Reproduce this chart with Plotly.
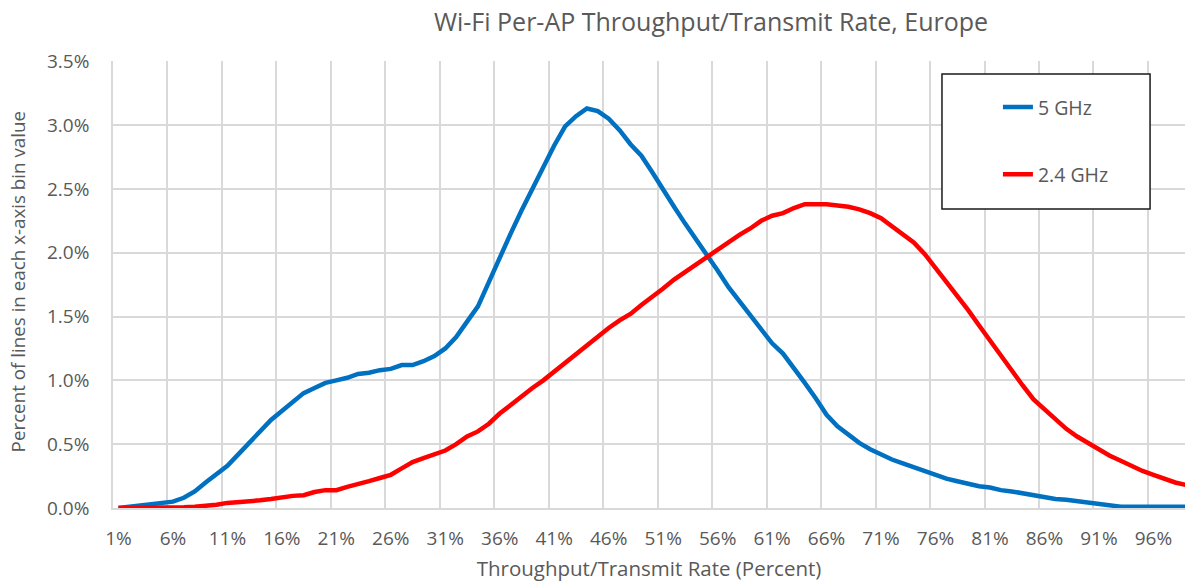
import plotly.graph_objects as go

# bins 1..100 (percent of throughput/transmit rate)
bins = list(range(1, 101))
tick_vals = list(range(1, 100, 5))
tick_text = [f"{v}%" for v in tick_vals]

ghz5 = [
    0.00, 0.01, 0.015, 0.03, 0.04, 0.05, 0.08, 0.13, 0.20, 0.26,
    0.33, 0.42, 0.51, 0.60, 0.69, 0.76, 0.83, 0.90, 0.94, 0.98,
    1.00, 1.02, 1.05, 1.06, 1.08, 1.09, 1.12, 1.12, 1.15, 1.19,
    1.25, 1.34, 1.46, 1.58, 1.77, 1.97, 2.15, 2.33, 2.50, 2.67,
    2.84, 2.99, 3.07, 3.13, 3.11, 3.05, 2.96, 2.85, 2.76, 2.63,
    2.49, 2.36, 2.23, 2.11, 1.99, 1.86, 1.73, 1.62, 1.51, 1.39,
    1.29, 1.21, 1.10, 0.98, 0.86, 0.73, 0.64, 0.57, 0.51, 0.46,
    0.42, 0.38, 0.35, 0.32, 0.29, 0.26, 0.23, 0.21, 0.19, 0.17,
    0.16, 0.14, 0.13, 0.115, 0.10, 0.085, 0.07, 0.065, 0.055, 0.04,
    0.03, 0.025, 0.01, 0.01, 0.01, 0.01, 0.01, 0.01, 0.01, 0.01,
]

ghz24 = [
    0.00, 0.00, 0.00, 0.00, 0.00, 0.00, 0.005, 0.01, 0.015, 0.025,
    0.04, 0.045, 0.055, 0.06, 0.07, 0.085, 0.095, 0.10, 0.125, 0.14,
    0.14, 0.165, 0.185, 0.21, 0.235, 0.26, 0.31, 0.36, 0.39, 0.42,
    0.45, 0.50, 0.56, 0.60, 0.66, 0.74, 0.81, 0.87, 0.94, 1.00,
    1.07, 1.13, 1.20, 1.27, 1.34, 1.41, 1.47, 1.52, 1.59, 1.65,
    1.72, 1.79, 1.85, 1.91, 1.97, 2.03, 2.08, 2.14, 2.19, 2.25,
    2.29, 2.31, 2.35, 2.38, 2.38, 2.38, 2.37, 2.36, 2.34, 2.31,
    2.27, 2.21, 2.14, 2.08, 1.99, 1.88, 1.77, 1.67, 1.55, 1.43,
    1.31, 1.19, 1.08, 0.96, 0.85, 0.77, 0.70, 0.62, 0.56, 0.51,
    0.45, 0.41, 0.37, 0.33, 0.29, 0.26, 0.23, 0.20, 0.18, 0.16,
]

FONT = "Open Sans"
TXT = "#595959"
GRID = "#d9d9d9"

fig = go.Figure()
fig.add_trace(go.Scatter(x=bins, y=ghz5, mode="lines", name="5 GHz",
                         legendgroup="a", line=dict(color="#0070C0", width=4.5)))
fig.add_trace(go.Scatter(x=bins, y=ghz24, mode="lines", name="2.4 GHz",
                         legendgroup="b", line=dict(color="#FF0000", width=4.5)))

fig.update_layout(
    width=1185, height=586,
    margin=dict(l=113, r=0, t=61, b=78),
    paper_bgcolor="white", plot_bgcolor="white",
    font=dict(family=FONT, size=19, color=TXT),
    title=dict(text="Wi-Fi Per-AP Throughput/Transmit Rate, Europe",
               x=0.6, xanchor="center", y=0.962, yanchor="middle",
               font=dict(size=25, color=TXT)),
    showlegend=True,
    legend=dict(x=0.8255, y=0.94, xanchor="left", yanchor="top",
                bgcolor="rgba(0,0,0,0)", borderwidth=0,
                tracegroupgap=39, font=dict(size=19.5, color=TXT)),
    shapes=[dict(type="rect", xref="paper", yref="paper",
                 x0=0.7733, x1=0.9674, y0=0.6689, y1=0.9709,
                 line=dict(color="#1a1a1a", width=1.5),
                 fillcolor="white", layer="above")],
    annotations=[dict(text="Percent of lines in each x-axis bin value",
                      xref="paper", yref="paper", x=-0.0886, y=0.507,
                      textangle=-90, showarrow=False,
                      font=dict(family=FONT, size=18.8, color=TXT),
                      xanchor="center", yanchor="middle")],
)

fig.update_xaxes(
    range=[0.5, 98.9], tickmode="array", tickvals=tick_vals, ticktext=tick_text,
    showgrid=False, zeroline=False, ticks="", ticklabelstandoff=12,
    showline=True, linecolor=GRID, linewidth=1.5,
    minor=dict(tickmode="linear", tick0=0.5, dtick=5, showgrid=True,
               gridcolor=GRID, gridwidth=1.5, ticks=""),
    title=dict(text="Throughput/Transmit Rate (Percent)", standoff=12,
               font=dict(size=20.5, color=TXT)),
)
fig.update_yaxes(
    range=[0, 3.502], tickmode="array", tickvals=[0, 0.5, 1, 1.5, 2, 2.5, 3, 3.5],
    ticktext=["0.0%", "0.5%", "1.0%", "1.5%", "2.0%", "2.5%", "3.0%", "3.5%"],
    showgrid=True, gridcolor=GRID, gridwidth=1.5, zeroline=False,
    showline=True, linecolor=GRID, linewidth=1.5,
    ticks="", ticklabelstandoff=18,
)

fig.write_html("out.html", config={"displayModeBar": False},
               post_script="document.body.style.margin='0px';")
